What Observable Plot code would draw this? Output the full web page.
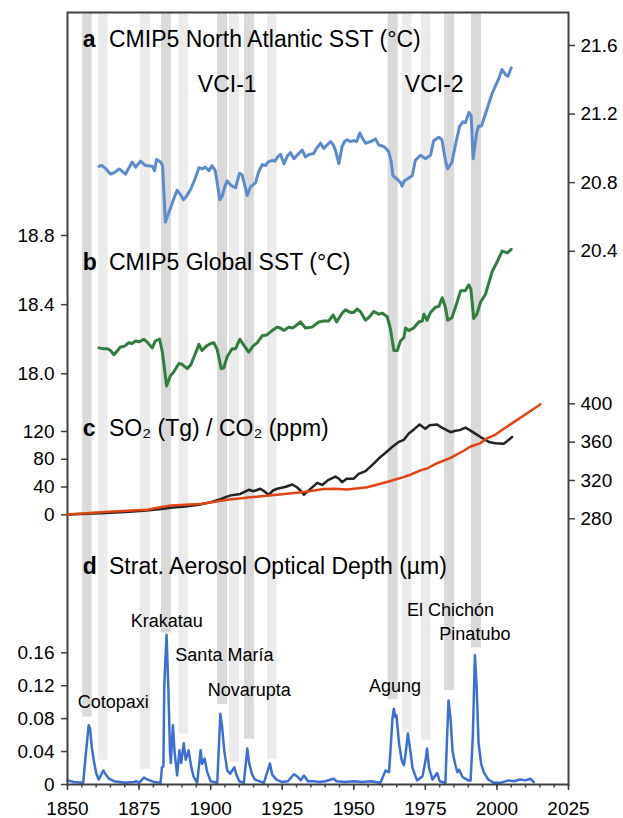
<!DOCTYPE html>
<html><head><meta charset="utf-8">
<script src="https://cdn.jsdelivr.net/npm/d3@7"></script>
<script src="https://cdn.jsdelivr.net/npm/@observablehq/plot@0.6"></script>
<style>
body{margin:0;background:#fff;}
#chart{position:relative;width:623px;height:818px;}
#chart svg{position:absolute;left:0;top:0;}
</style></head><body><div id="chart"></div>
<script>
// ---------- DATA ----------
const xTicks = [1850, 1875, 1900, 1925, 1950, 1975, 2000, 2025];
const naTicks = [20.4, 20.8, 21.2, 21.6];
const glTicks = [18.0, 18.4, 18.8];
const so2Ticks = [0, 40, 80, 120];
const co2Ticks = [280, 320, 360, 400];
const aodTicks = [0, 0.04, 0.08, 0.12, 0.16];

// volcanic bands
const bandStart  = [1855.3, 1860.9, 1875.5, 1882.8, 1888.9, 1902.4, 1906.6, 1911.8, 1919.9, 1962.0, 1967.1, 1973.6, 1981.7, 1991.1];
const bandEnd    = [1858.6, 1864.2, 1879.0, 1886.3, 1892.2, 1905.9, 1910.1, 1915.3, 1923.2, 1965.5, 1970.4, 1977.0, 1985.2, 1994.6];
const bandBottom = [0.082, 0.0295, 0.0185, 0.184, 0.061, 0.097, 0.0274, 0.055, 0.0307, 0.103, 0.0625, 0.0537, 0.114, 0.166];
const bandShade  = ["dark","light","light","dark","light","dark","light","dark","light","dark","light","light","dark","dark"];

// a: CMIP5 North Atlantic SST
const naYears = [1861,1862,1863.5,1865,1866.5,1868,1870.3,1872.6,1873.8,1875.5,1877.2,1879.6,1880.4,1881.1,1882.5,1883.2,1884.2,1885.5,1887,1888.3,1889.5,1890.5,1891.5,1893,1894.5,1895.9,1897,1898.2,1899.4,1900.5,1901.6,1902.3,1903.2,1904,1905,1905.8,1906.8,1907.5,1908.7,1910.1,1911,1912,1912.8,1913.9,1915.7,1916.7,1918,1919.3,1920,1921.5,1922.4,1923.4,1924.4,1925.6,1926.8,1927.9,1929.1,1930.5,1932,1933.1,1934.5,1936,1937,1938.4,1939.5,1940.7,1941.9,1942.8,1943.6,1944.8,1945.9,1946.8,1947.7,1948.8,1950,1951,1952.1,1953,1954.1,1955,1956,1957.6,1958.7,1959.6,1960.5,1961.5,1962.2,1963,1963.7,1965.2,1966.3,1966.9,1967.6,1968.5,1970.4,1971.5,1973.3,1975,1976.8,1977.9,1979.7,1980.8,1982,1982.8,1984.3,1985.5,1987,1988.2,1989,1990.2,1991,1991.7,1992.9,1993.6,1994.6,1996,1998.3,2000.6,2001.8,2003,2003.8,2005];
const naValues = [20.895,20.90,20.88,20.85,20.86,20.88,20.85,20.92,20.89,20.925,20.90,20.895,20.87,20.935,20.92,20.90,20.57,20.63,20.70,20.755,20.73,20.70,20.72,20.76,20.82,20.887,20.88,20.89,20.87,20.90,20.87,20.80,20.70,20.72,20.78,20.81,20.79,20.78,20.77,20.855,20.845,20.78,20.725,20.775,20.80,20.86,20.905,20.90,20.92,20.93,20.925,20.95,20.965,20.91,20.955,20.975,20.94,20.965,20.99,20.95,20.965,20.97,21.0,21.03,21.0,21.02,21.04,21.02,20.99,20.91,21.01,21.04,21.05,21.04,21.045,21.04,21.09,21.06,21.03,21.035,21.04,21.055,21.02,21.015,21.01,20.995,20.98,20.93,20.84,20.82,20.80,20.78,20.81,20.82,20.84,20.93,20.96,20.94,20.96,21.045,21.065,21.05,20.93,20.88,20.92,21.02,21.13,21.155,21.15,21.21,21.19,20.94,21.09,21.13,21.13,21.2,21.32,21.405,21.46,21.43,21.42,21.47];

// b: CMIP5 Global SST
const glYears = [1861,1862.5,1864,1865,1866.2,1867.5,1868.5,1870,1871.4,1872.5,1873.8,1875,1876.7,1878,1879.6,1880.7,1882.2,1883.2,1884.6,1886,1887.1,1888.9,1890,1891.8,1893,1894.5,1895.9,1897,1898.5,1900,1901.1,1902.3,1903.7,1904.6,1905.8,1907.5,1908.7,1910.2,1911.4,1913.3,1914.8,1916.3,1918,1919.6,1921.5,1923.2,1924.3,1925.6,1927.3,1928.5,1929.5,1931.4,1933.1,1935.4,1937.8,1939.5,1941.2,1942.8,1944,1945.9,1947.1,1948.8,1950,1951.2,1952.3,1954.1,1955.2,1957,1958.7,1960,1961.7,1962.8,1964,1965.2,1966.3,1967.5,1968.1,1969.2,1970.9,1972.7,1973.9,1974.5,1975.6,1976.8,1978.5,1979.7,1980.9,1982,1982.8,1984.3,1985.9,1987.3,1988.9,1990.2,1990.9,1991.9,1993,1994.3,1996,1998.3,2000,2001.8,2003.6,2005];
const glValues = [18.15,18.145,18.145,18.135,18.11,18.135,18.155,18.16,18.18,18.175,18.19,18.185,18.20,18.18,18.15,18.19,18.20,18.12,17.93,17.99,18.01,18.06,18.055,18.03,18.05,18.11,18.17,18.135,18.16,18.175,18.18,18.14,18.03,18.035,18.10,18.145,18.145,18.20,18.17,18.125,18.16,18.18,18.22,18.225,18.25,18.27,18.265,18.25,18.27,18.265,18.275,18.30,18.265,18.27,18.30,18.305,18.305,18.34,18.30,18.35,18.37,18.355,18.355,18.375,18.36,18.31,18.325,18.36,18.345,18.35,18.33,18.26,18.135,18.135,18.19,18.21,18.265,18.25,18.265,18.30,18.305,18.345,18.31,18.355,18.385,18.39,18.44,18.385,18.31,18.325,18.405,18.48,18.48,18.515,18.49,18.32,18.345,18.415,18.46,18.59,18.645,18.71,18.70,18.72];

// c: SO2 (Tg) and CO2 (ppm)
const so2Years = [1850,1861.5,1870,1876.6,1882,1886,1891,1896.5,1900,1903.4,1905,1907,1910.4,1913.3,1915,1917.4,1919,1920.3,1921.8,1923.2,1926,1928.5,1930,1931.4,1932.6,1934.5,1937.2,1939,1941,1943.6,1944.8,1945.9,1947.5,1950,1951.7,1954.1,1956.5,1958.7,1961,1963.4,1965.7,1967.5,1969.2,1971,1973,1974,1975,1976.5,1979.1,1980.6,1983.8,1985.5,1987,1989,1990.5,1992,1994.3,1997.2,1999.5,2002.4,2003.5,2005.3];
const so2Values = [0.4,2.3,4,6,8,10,12,15,18,22.5,25,28,30,36,34,37.5,33,29,35,37.5,40,43.7,40,35,29,36,46,43,50,55,52,47,52,52,59,63,72,81,89,97.6,105,108,117,123,130,127,124,129,130,126,119,121,122,125.6,122,118,112,105,103,102.5,106,112];
const co2Years = [1850,1862.7,1877.8,1882.5,1886,1896.5,1905.8,1913.9,1923.2,1932.6,1939.5,1942.9,1947.7,1954.7,1959.3,1962.8,1966.3,1969.8,1973.3,1975.6,1979.1,1983.8,1988.4,1990.8,1994.3,1996.5,1999,2002.4,2005,2009.4,2012,2015.2];
const co2Values = [284.5,287,289.4,292,294,295.5,299.8,302.5,305,308,311,311.3,310.5,313,316.5,319.5,322.5,326,330.5,332.5,338,343.5,351,355.5,359,364,367,374,379,387.8,393,399.5];

// d: Stratospheric aerosol optical depth
const aodYears = [1850,1852.2,1855.5,1856.2,1857.4,1857.9,1858.5,1859.2,1860,1860.9,1862.5,1863.2,1864.5,1866.2,1870,1873.2,1874,1875,1876.7,1878,1880.2,1882.5,1883,1883.5,1883.8,1884.6,1885.2,1885.8,1886.1,1886.8,1887.4,1888.3,1889.1,1889.7,1890.6,1891.3,1892.3,1893.2,1894,1895.3,1896.5,1897,1897.9,1898.8,1900,1902.3,1902.8,1903.4,1904,1904.8,1905.8,1906.8,1908.3,1909,1910,1911.6,1912.8,1913.5,1914.5,1915.5,1918.6,1920.7,1921.5,1923,1925,1927,1929.1,1930.2,1931.5,1932.6,1934,1936,1938,1940,1943,1944,1947,1950,1953,1956,1959.3,1960.5,1961.1,1962.3,1962.8,1963.5,1964,1964.5,1964.9,1965.8,1966.7,1967.5,1968.2,1968.9,1969.6,1970.5,1972.1,1974,1975.1,1975.6,1976.3,1977.5,1979.1,1980,1982,1982.5,1983.1,1983.8,1984.5,1985.5,1986.2,1986.8,1988,1990,1990.8,1991.6,1992.3,1992.9,1993.6,1994.5,1995.4,1997,1999,2001.2,2004,2006,2008,2010,2011.7,2012.9];
const aodValues = [0.005,0.003,0.002,0.03,0.072,0.068,0.045,0.029,0.014,0.006,0.017,0.013,0.007,0.004,0.002,0.003,0.004,0.002,0.0085,0.006,0.003,0.002,0.021,0.022,0.12,0.182,0.12,0.04,0.026,0.072,0.04,0.011,0.0415,0.026,0.05,0.03,0.0415,0.022,0.01,0.002,0.0415,0.025,0.0315,0.015,0.004,0.002,0.04,0.086,0.07,0.04,0.017,0.013,0.021,0.012,0.004,0.002,0.0436,0.025,0.012,0.006,0.002,0.0255,0.012,0.006,0.003,0.004,0.0125,0.01,0.005,0.011,0.004,0.004,0.003,0.004,0.007,0.004,0.003,0.004,0.003,0.004,0.002,0.012,0.017,0.015,0.04,0.08,0.092,0.082,0.084,0.05,0.03,0.0234,0.04,0.062,0.045,0.02,0.005,0.01,0.03,0.0436,0.02,0.006,0.014,0.004,0.002,0.05,0.102,0.08,0.04,0.0234,0.015,0.018,0.009,0.005,0.005,0.06,0.157,0.12,0.05,0.025,0.015,0.006,0.002,0.002,0.005,0.004,0.006,0.005,0.007,0.003];

const volcanoNames = ["Cotopaxi","Krakatau","Santa María","Novarupta","Agung","El Chichón","Pinatubo"];

// ---------- LAYOUT ----------
const W = 623, H = 818;
const FONT = "'Liberation Sans', Arial, Helvetica, sans-serif";
const common = {
  width: W, height: H, marginTop: 12, marginBottom: 34, marginLeft: 67, marginRight: 55,
  style: {background: "transparent", fontFamily: FONT, fontSize: "19px", color: "#000", overflow: "visible"}
};
const AX = {stroke: "#404040", strokeWidth: 1.5, fill: "#000", label: null};
const TITLE = 23, LABEL = 18;
const shadeColor = {dark: "#d9d9d9", light: "#ebebeb"};
const chart = document.getElementById("chart");

function title(letter, text, y, extra = {}) {
  return [
    Plot.text([letter], {x: () => 1855.35, y: () => y, text: d => d, textAnchor: "start", lineAnchor: "bottom", fontWeight: "bold", fontSize: TITLE, fill: "#000", ...extra}),
    Plot.text([text], {x: () => 1864.5, y: () => y, text: d => d, textAnchor: "start", lineAnchor: "bottom", fontSize: TITLE, fill: "#000", ...extra})
  ];
}

// base: panel d + bands + frame + x axis
const labelX = [1866.0, 1884.7, 1904.8, 1913.5, 1964.4, 1983.8, 1992.3];
const labelY = [0.0929, 0.1911, 0.1498, 0.1081, 0.1121, 0.2053, 0.1758];
chart.appendChild(Plot.plot({
  ...common,
  x: {domain: [1850, 2025], label: null},
  y: {domain: [0, 0.16], range: [784, 652.3], label: null},
  color: {type: "identity"},
  marks: [
    Plot.rect(bandStart, {x1: bandStart, x2: bandEnd, y1: bandBottom, y2: () => 1, fill: bandShade.map(s => shadeColor[s]), clip: true}),
    Plot.line(aodValues, {x: aodYears, y: aodValues, stroke: "#3b6fd6", strokeWidth: 2.5, strokeLinejoin: "round"}),
    Plot.text(volcanoNames, {x: labelX, y: labelY, text: d => d, textAnchor: "middle", lineAnchor: "bottom", fontSize: LABEL, fill: "#000"}),
    ...title("d", "Strat. Aerosol Optical Depth (µm)", 0.256),
    Plot.axisY({...AX, ticks: aodTicks, tickFormat: d => d === 0 ? "0" : d.toFixed(2), tickSize: 6, tickPadding: 7}),
    Plot.axisX({...AX, ticks: d3.range(1850, 2026, 5), tickFormat: () => "", tickSize: 3.5}),
    Plot.axisX({...AX, ticks: xTicks, tickFormat: d => String(d), tickSize: 6, tickPadding: 11}),
    Plot.frame({stroke: "#404040", strokeWidth: 2})
  ]
}));

// panel a
chart.appendChild(Plot.plot({
  ...common,
  x: {domain: [1850, 2025], label: null, axis: null},
  y: {domain: [20.4, 21.6], range: [250.7, 45], label: null},
  marks: [
    Plot.line(naValues, {x: naYears, y: naValues, stroke: "#5a8bcc", strokeWidth: 3, strokeLinejoin: "round"}),
    ...title("a", "CMIP5 North Atlantic SST (°C)", 21.594),
    Plot.text(["VCI-1", "VCI-2"], {x: [1905.8, 1978.1], y: [21.328, 21.328], text: d => d, textAnchor: "middle", lineAnchor: "bottom", fontSize: TITLE, fill: "#000"}),
    Plot.axisY({...AX, anchor: "right", ticks: naTicks, tickFormat: d => d.toFixed(1), tickSize: 6, tickPadding: 6})
  ]
}));

// panel b
chart.appendChild(Plot.plot({
  ...common,
  x: {domain: [1850, 2025], label: null, axis: null},
  y: {domain: [18.0, 18.8], range: [373.3, 235], label: null},
  marks: [
    Plot.line(glValues, {x: glYears, y: glValues, stroke: "#2f7e3d", strokeWidth: 3, strokeLinejoin: "round"}),
    ...title("b", "CMIP5 Global SST (°C)", 18.598),
    Plot.axisY({...AX, anchor: "left", ticks: glTicks, tickFormat: d => d.toFixed(1), tickSize: 6, tickPadding: 7})
  ]
}));

// panel c: SO2 (left)
chart.appendChild(Plot.plot({
  ...common,
  x: {domain: [1850, 2025], label: null, axis: null},
  y: {domain: [0, 120], range: [514.3, 431], label: null},
  marks: [
    Plot.line(so2Values, {x: so2Years, y: so2Values, stroke: "#222", strokeWidth: 2.5, strokeLinejoin: "round"}),
    ...title("c", "SO₂ (Tg) / CO₂ (ppm)", 114.2),
    Plot.axisY({...AX, anchor: "left", ticks: so2Ticks, tickFormat: d => String(d), tickSize: 6, tickPadding: 7})
  ]
}));

// panel c: CO2 (right)
chart.appendChild(Plot.plot({
  ...common,
  x: {domain: [1850, 2025], label: null, axis: null},
  y: {domain: [280, 400], range: [518.3, 403.3], label: null},
  marks: [
    Plot.line(co2Values, {x: co2Years, y: co2Values, stroke: "#e2440f", strokeWidth: 2.5, strokeLinejoin: "round"}),
    Plot.axisY({...AX, anchor: "right", ticks: co2Ticks, tickFormat: d => String(d), tickSize: 6, tickPadding: 6})
  ]
}));
</script></body></html>
